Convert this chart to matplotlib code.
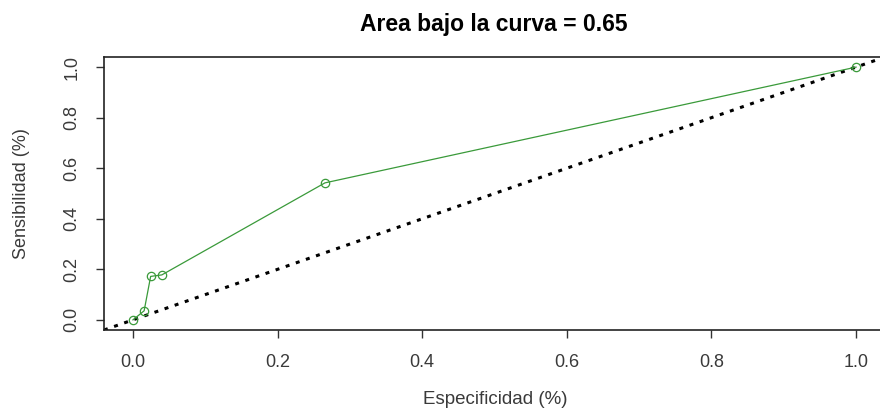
import matplotlib
matplotlib.use("Agg")
import matplotlib.pyplot as plt

# ROC curve points
espec = [0.0, 0.0155, 0.0245, 0.040, 0.2655, 1.0]
sens = [0.0, 0.036, 0.172, 0.178, 0.542, 1.0]
ticks = [0.0, 0.2, 0.4, 0.6, 0.8, 1.0]
tick_labels = ["0.0", "0.2", "0.4", "0.6", "0.8", "1.0"]
titulo = "Area bajo la curva = 0.65"

plt.rcParams['font.family'] = ['Liberation Sans', 'DejaVu Sans']

fig = plt.figure(figsize=(8.8, 4.13), dpi=100)
ax = fig.add_axes([104/880, 83/413, 781/880, 273/413])

ax.axline((0, 0), slope=1, color='black', lw=2.2,
          linestyle=(0, (1.3, 2.2)), dash_capstyle='butt')
ax.plot(espec, sens, color='#3a9a3a', lw=0.9, marker='o', ms=6,
        mfc='none', mec='#3a9a3a', mew=0.9)

ax.set_xlim(-0.04, 1.04)
ax.set_ylim(-0.04, 1.04)
ax.set_xticks(ticks)
ax.set_xticklabels(tick_labels)
ax.set_yticks(ticks)
ax.set_yticklabels(tick_labels, rotation=90, va='center')
ax.tick_params(direction='out', length=6, width=1, color='#333333',
               labelsize=13, labelcolor='#3a3a3a')
ax.tick_params(axis='x', pad=11)
ax.tick_params(axis='y', pad=11)
for s in ax.spines.values():
    s.set_color('#222222')
    s.set_linewidth(1.2)
ax.spines['right'].set_visible(False)

fig.text(494/880, 1 - 24/413, titulo, ha='center', va='center',
         fontsize=16.5, fontweight='bold')
fig.text(495/880, 1 - 399/413, "Especificidad (%)", ha='center', va='center',
         fontsize=13.5, color='#3a3a3a')
fig.text(22/880, 1 - 194/413, "Sensibilidad (%)", ha='center', va='center',
         rotation=90, fontsize=13, color='#3a3a3a')

fig.savefig("out.png", dpi=100)
